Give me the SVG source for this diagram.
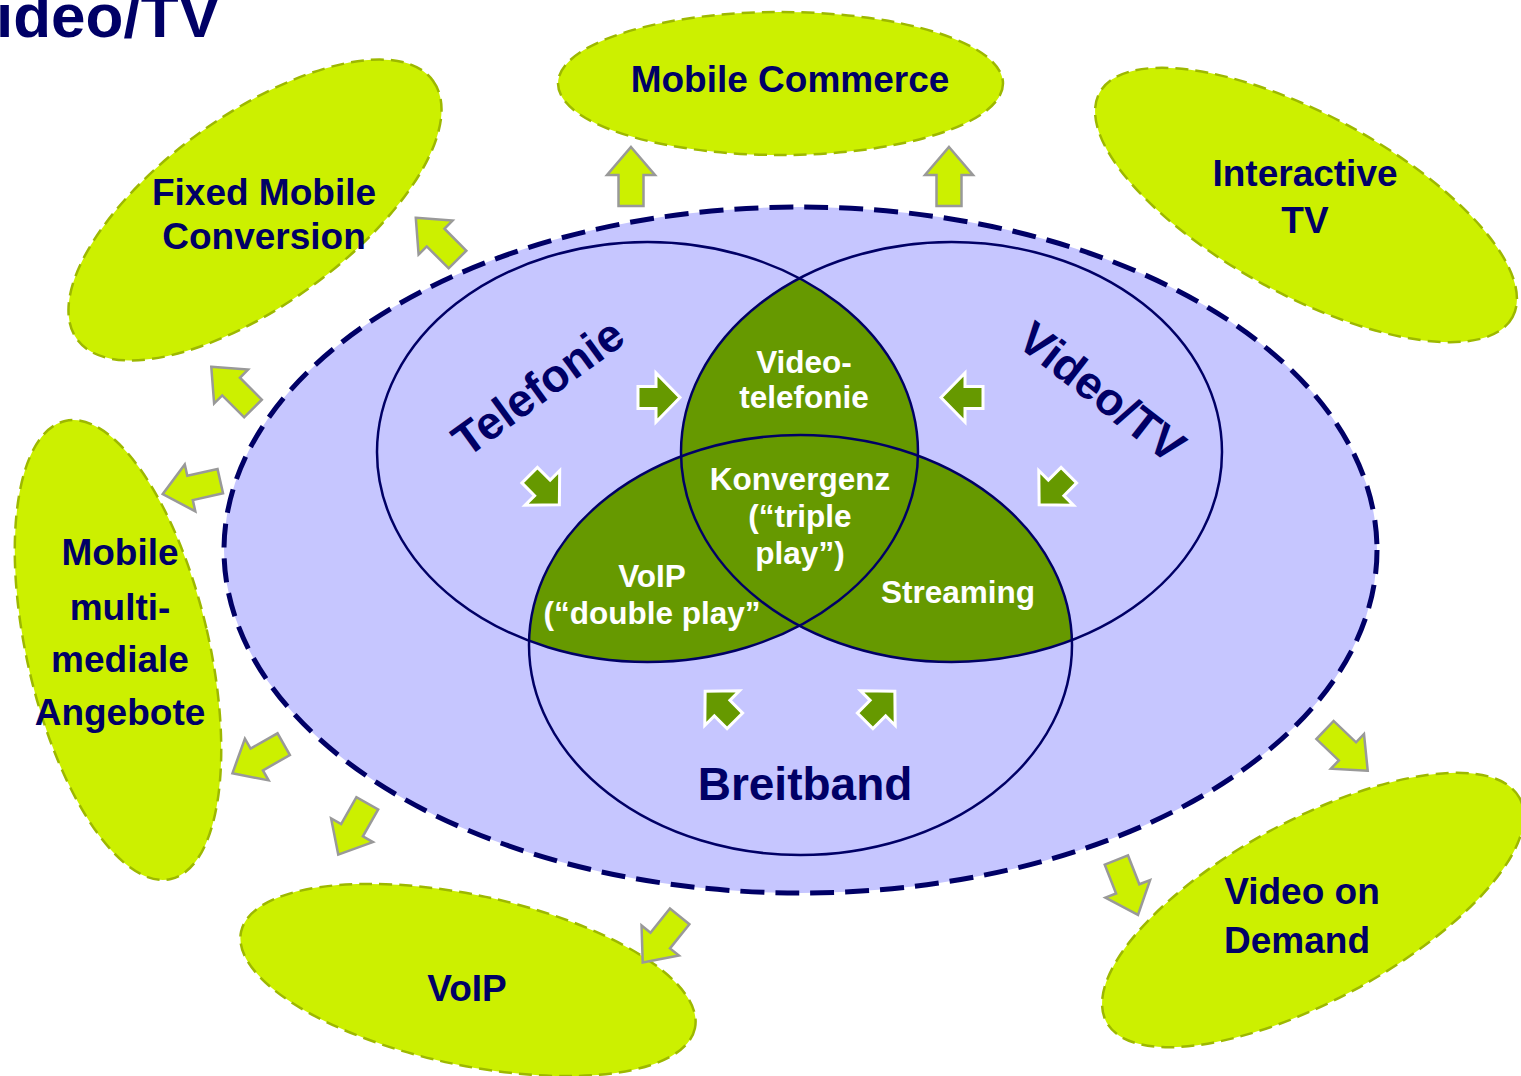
<svg xmlns="http://www.w3.org/2000/svg" xmlns:xlink="http://www.w3.org/1999/xlink" width="1521" height="1076" viewBox="0 0 1521 1076">
<style>
.oval{fill:#CCF000;stroke:#9DB800;stroke-width:2.5;stroke-dasharray:13 7}
.big{fill:#C6C6FF;stroke:#000066;stroke-width:5;stroke-dasharray:24 11}
.ring{fill:none;stroke:#000066;stroke-width:2.5}
.lens{fill:#669900}
.ya{fill:#CCF000;stroke:#999999;stroke-width:2.5;stroke-linejoin:miter}
.ga{fill:#669900;stroke:#FFFFFF;stroke-width:3}
.t{font-family:"Liberation Sans",Arial,Helvetica,sans-serif;font-weight:bold;fill:#000066;text-anchor:middle}
.w{font-family:"Liberation Sans",Arial,Helvetica,sans-serif;font-weight:bold;fill:#FFFFFF;text-anchor:middle;font-size:31.5px}
.o{font-size:37px}
.v{font-size:46px}
</style>
<defs>
<path id="ay" d="M0,-30 L24,-2 L12.5,-2 L12.5,29 L-12.5,29 L-12.5,-2 L-24,-2 Z"/>
<path id="ag" d="M0,-21 L24.5,3 L11,3 L11,21 L-11,21 L-11,3 L-24.5,3 Z"/>
<clipPath id="cA"><ellipse cx="647.5" cy="452" rx="270.5" ry="210"/></clipPath>
<clipPath id="cB"><ellipse cx="951.5" cy="452" rx="270.5" ry="210"/></clipPath>
</defs>

<text class="t" x="-4" y="37" style="font-size:62px;text-anchor:start">ideo/TV</text>

<g id="node-mobile-commerce">
<ellipse class="oval" cx="780.5" cy="83.5" rx="222.5" ry="71.5"/>
<text class="t o" x="790" y="92">Mobile Commerce</text>
</g>
<g id="node-fixed-mobile">
<ellipse class="oval" cx="255" cy="210" rx="220" ry="95" transform="rotate(-36 255 210)"/>
<text class="t o" x="264" y="205">Fixed Mobile</text>
<text class="t o" x="264" y="249">Conversion</text>
</g>
<g id="node-interactive-tv">
<ellipse class="oval" cx="1306" cy="205" rx="235" ry="90" transform="rotate(28.5 1306 205)"/>
<text class="t o" x="1305" y="186">Interactive</text>
<text class="t o" x="1305" y="233">TV</text>
</g>
<g id="node-mobile-multimedia">
<ellipse class="oval" cx="118" cy="650" rx="91" ry="235" transform="rotate(-13 118 650)"/>
<text class="t o" x="120" y="565">Mobile</text>
<text class="t o" x="120" y="620">multi-</text>
<text class="t o" x="120" y="672">mediale</text>
<text class="t o" x="120" y="725">Angebote</text>
</g>
<g id="node-voip">
<ellipse class="oval" cx="468" cy="980" rx="232" ry="85" transform="rotate(12 468 980)"/>
<text class="t o" x="467" y="1001">VoIP</text>
</g>
<g id="node-vod">
<ellipse class="oval" cx="1313" cy="910" rx="235" ry="90" transform="rotate(-28.5 1313 910)"/>
<text class="t o" x="1302" y="904">Video on</text>
<text class="t o" x="1297" y="953">Demand</text>
</g>

<g id="node-core">
<ellipse class="big" cx="800.5" cy="550" rx="576.5" ry="343"/>
</g>

<g id="node-venn">
<g clip-path="url(#cA)">
<ellipse class="lens" cx="951.5" cy="452" rx="270.5" ry="210"/>
<ellipse class="lens" cx="800.5" cy="645" rx="271.5" ry="210"/>
</g>
<g clip-path="url(#cB)">
<ellipse class="lens" cx="800.5" cy="645" rx="271.5" ry="210"/>
</g>
<ellipse class="ring" cx="647.5" cy="452" rx="270.5" ry="210"/>
<ellipse class="ring" cx="951.5" cy="452" rx="270.5" ry="210"/>
<ellipse class="ring" cx="800.5" cy="645" rx="271.5" ry="210"/>
<text class="t v" transform="translate(538 387) rotate(-36)" x="0" y="16">Telefonie</text>
<text class="t v" transform="translate(1102 392) rotate(38)" x="0" y="16">Video/TV</text>
<text class="t v" x="805" y="800">Breitband</text>
<text class="w" x="804" y="373">Video-</text>
<text class="w" x="804" y="408">telefonie</text>
<text class="w" x="800" y="490">Konvergenz</text>
<text class="w" x="800" y="527">(“triple</text>
<text class="w" x="800" y="564">play”)</text>
<text class="w" x="652" y="587">VoIP</text>
<text class="w" x="652" y="624">(“double play”</text>
<text class="w" x="958" y="603">Streaming</text>
</g>

<g id="connectors">
<use xlink:href="#ay" class="ya" transform="translate(631 177)"/>
<use xlink:href="#ay" class="ya" transform="translate(949 177)"/>
<use xlink:href="#ay" class="ya" transform="translate(437 239) rotate(-45)"/>
<use xlink:href="#ay" class="ya" transform="translate(232.5 388) rotate(-45)"/>
<use xlink:href="#ay" class="ya" transform="translate(192 487.5) rotate(-102.7)"/>
<use xlink:href="#ay" class="ya" transform="translate(258.5 758.5) rotate(240.4)"/>
<use xlink:href="#ay" class="ya" transform="translate(353 828.5) rotate(209.5)"/>
<use xlink:href="#ay" class="ya" transform="translate(661.5 939) rotate(218.8)"/>
<use xlink:href="#ay" class="ya" transform="translate(1346 750) rotate(133.6)"/>
<use xlink:href="#ay" class="ya" transform="translate(1127 887) rotate(158.5)"/>
<use xlink:href="#ag" class="ga" transform="translate(659 397.5) rotate(90)"/>
<use xlink:href="#ag" class="ga" transform="translate(962 397.5) rotate(-90)"/>
<use xlink:href="#ag" class="ga" transform="translate(544.5 490) rotate(135)"/>
<use xlink:href="#ag" class="ga" transform="translate(1054 490) rotate(225)"/>
<use xlink:href="#ag" class="ga" transform="translate(720 706) rotate(-45)"/>
<use xlink:href="#ag" class="ga" transform="translate(880 706) rotate(45)"/>
</g>
</svg>
